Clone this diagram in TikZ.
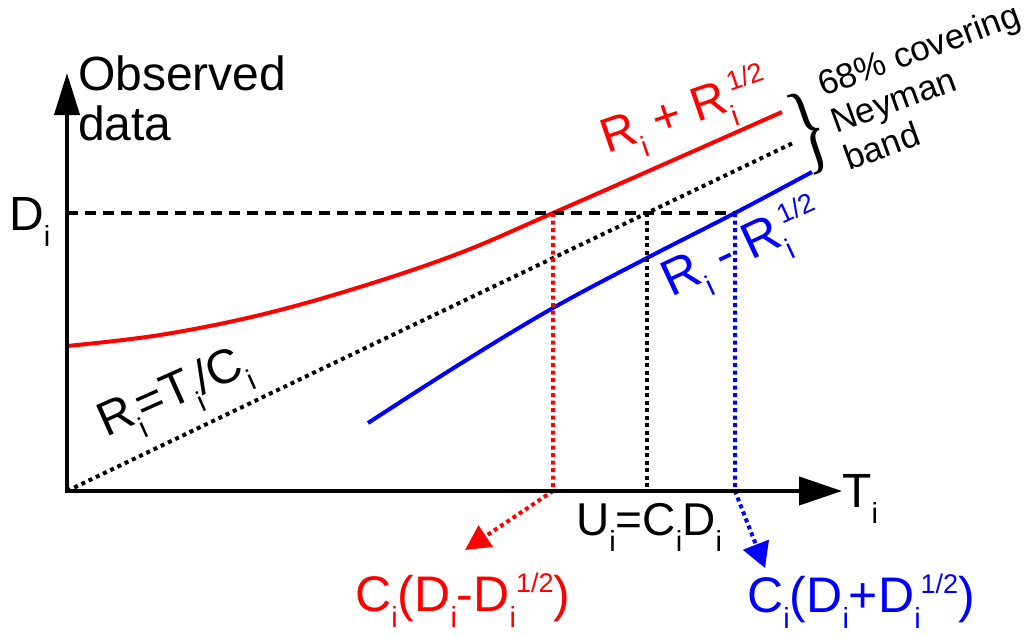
\documentclass[tikz,border=0pt]{standalone}
\usepackage{fontspec}
\setmainfont{Liberation Sans}
\newfontfamily\bracefont{Liberation Serif}
\usetikzlibrary{arrows.meta}
\definecolor{myred}{RGB}{255,0,0}
\definecolor{myblue}{RGB}{0,0,255}
\newcommand\lo[1]{\raisebox{-16pt}{\fontsize{29}{29}\selectfont #1}}
\newcommand\hi[1]{\raisebox{19pt}{\fontsize{27}{27}\selectfont #1}}
\tikzset{
  lbl/.style={inner sep=0pt, anchor=base west, font=\fontsize{48}{50}\selectfont},
  blbl/.style={lbl, font=\fontsize{50}{52}\selectfont},
  nlbl/.style={inner sep=0pt, anchor=base west, rotate=20, font=\fontsize{35}{39}\selectfont},
  curve/.style={line width=4pt},
  dotline/.style={line width=4pt, dash pattern=on 4pt off 4pt},
  vdot/.style={line width=4pt, dash pattern=on 4pt off 3.5pt},
  dashline/.style={line width=4pt, dash pattern=on 11pt off 7pt},
  axisline/.style={line width=4pt, line join=miter},
}
\begin{document}
\begin{tikzpicture}[x=1pt,y=-1pt]
\useasboundingbox (0,0) rectangle (1026,635);
% coordinates
\coordinate (O) at (67,491);
\coordinate (Ytip) at (67,73);
\coordinate (Xtip) at (842,491);
\coordinate (Dl) at (67,213);
\coordinate (Dr) at (735,213);
\coordinate (Rd) at (553,213);
\coordinate (Ra) at (553,491);
\coordinate (Rt) at (465,550);
\coordinate (Kd) at (647,213);
\coordinate (Ka) at (647,491);
\coordinate (Ba) at (735,491);
\coordinate (Bt) at (765,568);
\coordinate (Le) at (793,143);
% curves
\draw[myred, curve] plot[smooth, tension=0.6] coordinates {(67,346) (160,335) (260,315) (360,287) (460,253) (553,213) (660,166) (782,112)};
\draw[myblue, curve] plot[smooth, tension=0.6] coordinates {(368,423) (460,364) (553,308) (647,258) (735,213) (812,172)};
\draw[dotline] (O) -- (Le);
\draw[dashline] (Dl) -- (Dr);
\draw[vdot] (Kd) -- (Ka);
\draw[vdot, myred, -{Triangle[length=25pt,width=25pt]}] (Rd) -- (Ra) -- (Rt);
\draw[vdot, myblue, -{Triangle[length=25pt,width=27pt]}] (Dr) -- (Ba) -- (Bt);
% axes
\draw[axisline, {Triangle[length=42pt,width=25pt]}-{Triangle[length=43pt,width=28pt]}] (Ytip) -- (O) -- (Xtip);
% labels
\node[lbl] (obs) at (78,90) {Observed};
\node[lbl] (dat) at (78,140) {data};
\node[lbl] (di) at (9,230) {D\lo{i}};
\node[lbl] (ti) at (842,507) {T\lo{i}};
\node[lbl, font=\fontsize{46}{48}\selectfont] (ui) at (576,535) {U\lo{i}=C\lo{i}D\lo{i}};
\node[blbl, text=myred] (cm) at (355,611) {C\lo{i}(D\lo{i}-D\lo{i}\hi{1/2})};
\node[blbl, text=myblue] (cp) at (747,612) {C\lo{i}(D\lo{i}+D\lo{i}\hi{1/2})};
\node[lbl, text=myred, rotate=19] (rp) at (607,154) {R\lo{i} + R\lo{i}\hi{1/2}};
\node[lbl, text=myblue, rotate=25, font=\fontsize{51}{53}\selectfont] (rm) at (671,298) {R\lo{i} - R\lo{i}\hi{1/2}};
\node[lbl, rotate=24] (rt) at (106,438) {R\lo{i}=T\lo{i}/C\lo{i}};
\node[inner sep=0pt, rotate=19, font=\fontsize{78}{78}\selectfont\bracefont] (br) at (810,132) {\scalebox{0.85}[1.3]{\}}};
\node[nlbl] (n1) at (823,97) {68\% covering};
\node[nlbl] (n2) at (836,134) {Neyman};
\node[nlbl] (n3) at (849,171) {band};
\end{tikzpicture}
\end{document}
